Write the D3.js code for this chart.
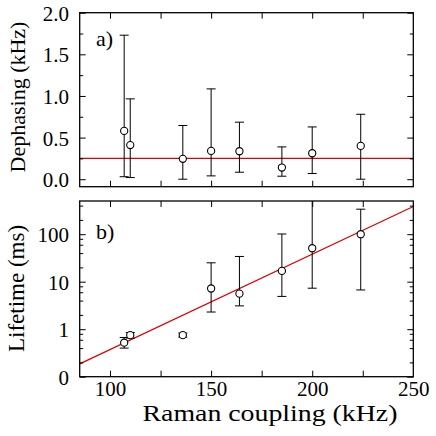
<!DOCTYPE html>
<html>
<head>
<meta charset="utf-8">
<script src="https://cdn.jsdelivr.net/npm/d3@7"></script>
<style>
  html, body { margin: 0; padding: 0; background: #fff; }
  svg { display: block; }
  text { font-family: "Liberation Serif", "Times New Roman", serif; }
</style>
</head>
<body>
<svg id="s" width="436" height="436"></svg>
<script>
// ---------------- data ----------------
const coupling       = [107, 110, 136, 150, 164, 185, 200, 224];
const dephasing      = [0.58, 0.41, 0.245, 0.34, 0.336, 0.14, 0.312, 0.40];
const dephasingLow   = [0.03, 0.02, 0.0, 0.04, 0.084, 0.036, 0.068, 0.0];
const dephasingHigh  = [1.73, 0.965, 0.645, 1.085, 0.685, 0.388, 0.628, 0.78];
const dephasingFit   = 0.25;

const lifetime       = [0.52, 0.75, 0.75, 7.2, 5.6, 16.9, 50.7, 100];
const lifetimeLow    = [0.40, 0.65, 0.68, 2.3, 3.1, 4.9, 7.3, 6.7];
const lifetimeHigh   = [0.67, 0.85, 0.83, 25, 34, 101, 700, 336];
const fitCoupling    = [85, 250];
const fitLifetime    = [0.186, 382];

const xTickValues    = [100, 125, 150, 175, 200, 225];
const xLabelValues   = [100, 150, 200, 250];
const yTopMajor      = [0, 0.5, 1.0, 1.5, 2.0];
const yTopMinor      = [0.25, 0.75, 1.25, 1.75];
const yBotMajor      = [0.1, 1, 10, 100];
const yBotLabels     = ["0", "1", "10", "100"];
const yBotMinor      = [0.2, 0.4, 0.6, 0.8, 2, 4, 6, 8, 20, 40, 60, 80, 200, 400];

// ---------------- layout ----------------
const L = 79.7, R = 413.3;
const topT = 12.7, topB = 186.7;
const botT = 201, botB = 376.7;
const majorLen = 6, minorLen = 3.5;
const tickFont = 21;
const FONT = '"Liberation Serif", "Times New Roman", serif';

const svg = d3.select("#s");

const x = d3.scaleLinear().domain([85, 250]).range([L, R]);
const yTop = d3.scaleLinear().domain([-0.09, 2.0]).range([topB, topT]);
const yBot = d3.scaleLog().domain([0.1, 500]).range([botB, botT]);

const defs = svg.append("defs");
defs.append("clipPath").attr("id", "clipTop").append("rect")
  .attr("x", L).attr("y", topT).attr("width", R - L).attr("height", topB - topT);
defs.append("clipPath").attr("id", "clipBot").append("rect")
  .attr("x", L).attr("y", botT).attr("width", R - L).attr("height", botB - botT);

function styleTicks(g) {
  g.select(".domain").remove();
  g.selectAll(".tick line").attr("stroke", "#000").attr("stroke-width", 1);
  g.selectAll(".tick text").remove();
}

function drawFrameTicks(yScale, T, B, majorY, minorY) {
  svg.append("g").attr("transform", `translate(0,${B})`)
    .call(d3.axisBottom(x).tickValues(xTickValues).tickSize(-majorLen).tickSizeOuter(0)).call(styleTicks);
  svg.append("g").attr("transform", `translate(0,${T})`)
    .call(d3.axisTop(x).tickValues(xTickValues).tickSize(-majorLen).tickSizeOuter(0)).call(styleTicks);
  svg.append("g").attr("transform", `translate(${L},0)`)
    .call(d3.axisLeft(yScale).tickValues(majorY).tickSize(-majorLen).tickSizeOuter(0)).call(styleTicks);
  svg.append("g").attr("transform", `translate(${L},0)`)
    .call(d3.axisLeft(yScale).tickValues(minorY).tickSize(-minorLen).tickSizeOuter(0)).call(styleTicks);
  svg.append("g").attr("transform", `translate(${R},0)`)
    .call(d3.axisRight(yScale).tickValues(majorY).tickSize(-majorLen).tickSizeOuter(0)).call(styleTicks);
  svg.append("g").attr("transform", `translate(${R},0)`)
    .call(d3.axisRight(yScale).tickValues(minorY).tickSize(-minorLen).tickSizeOuter(0)).call(styleTicks);
}

function drawErrorPoints(gClip, yScale, vals, lows, highs) {
  const cap = 4.5;
  const pts = coupling.map((c, i) => ({ c, v: vals[i], lo: lows[i], hi: highs[i] }));
  const eg = gClip.append("g").attr("stroke", "#000").attr("stroke-width", 1).attr("fill", "none");
  pts.forEach(p => {
    const cx = x(p.c);
    eg.append("line").attr("x1", cx).attr("x2", cx).attr("y1", yScale(p.lo)).attr("y2", yScale(p.hi));
    eg.append("line").attr("x1", cx - cap).attr("x2", cx + cap).attr("y1", yScale(p.lo)).attr("y2", yScale(p.lo));
    eg.append("line").attr("x1", cx - cap).attr("x2", cx + cap).attr("y1", yScale(p.hi)).attr("y2", yScale(p.hi));
  });
  gClip.append("g").selectAll("circle").data(pts).join("circle")
    .attr("cx", d => x(d.c)).attr("cy", d => yScale(d.v)).attr("r", 3.6)
    .attr("fill", "#fff").attr("stroke", "#000").attr("stroke-width", 1.1);
}

function styleLabels(g, yOff) {
  g.select(".domain").remove();
  g.attr("font-family", null).attr("font-size", null);
  g.selectAll("text")
    .style("font-family", FONT).style("font-size", tickFont + "px")
    .attr("fill", "#000").attr("dy", null).attr("y", yOff);
}

function label(sel, size) {
  return sel.style("font-family", FONT).style("font-size", size + "px").attr("fill", "#000");
}

// ---------------- top panel ----------------
const gTop = svg.append("g").attr("clip-path", "url(#clipTop)");
gTop.append("line")
  .attr("x1", x(85)).attr("x2", x(250))
  .attr("y1", yTop(dephasingFit)).attr("y2", yTop(dephasingFit))
  .attr("stroke", "#e00000").attr("stroke-width", 1.2);
drawErrorPoints(gTop, yTop, dephasing, dephasingLow, dephasingHigh);
drawFrameTicks(yTop, topT, topB, yTopMajor, yTopMinor);
svg.append("rect").attr("x", L).attr("y", topT).attr("width", R - L).attr("height", topB - topT)
  .attr("fill", "none").attr("stroke", "#000").attr("stroke-width", 1.3);

const yTopAxis = svg.append("g").attr("transform", `translate(69,0)`)
  .call(d3.axisLeft(yTop).tickValues(yTopMajor).tickSize(0).tickPadding(0).tickFormat(d3.format(".1f")));
styleLabels(yTopAxis, 7.5);
yTopAxis.selectAll("text").attr("x", 0).attr("text-anchor", "end");

// ---------------- bottom panel ----------------
const gBot = svg.append("g").attr("clip-path", "url(#clipBot)");
gBot.append("line")
  .attr("x1", x(fitCoupling[0])).attr("x2", x(fitCoupling[1]))
  .attr("y1", yBot(fitLifetime[0])).attr("y2", yBot(fitLifetime[1]))
  .attr("stroke", "#e00000").attr("stroke-width", 1.2);
drawErrorPoints(gBot, yBot, lifetime, lifetimeLow, lifetimeHigh);
drawFrameTicks(yBot, botT, botB, yBotMajor, yBotMinor);
svg.append("rect").attr("x", L).attr("y", botT).attr("width", R - L).attr("height", botB - botT)
  .attr("fill", "none").attr("stroke", "#000").attr("stroke-width", 1.3);

const yBotAxis = svg.append("g").attr("transform", `translate(69,0)`)
  .call(d3.axisLeft(yBot).tickValues(yBotMajor).tickSize(0).tickPadding(0)
    .tickFormat((d, i) => yBotLabels[i]));
styleLabels(yBotAxis, 7.5);
yBotAxis.selectAll("text").attr("x", 0).attr("text-anchor", "end");

const xAxis = svg.append("g").attr("transform", `translate(0,${botB})`)
  .call(d3.axisBottom(x).tickValues(xLabelValues).tickSize(0).tickPadding(0).tickFormat(d3.format("d")));
styleLabels(xAxis, 19.8);
xAxis.selectAll("text").attr("text-anchor", "middle");

// ---------------- labels ----------------
label(svg.append("text"), 23).attr("x", 270).attr("y", 421).attr("text-anchor", "middle")
  .attr("textLength", 255).attr("lengthAdjust", "spacingAndGlyphs")
  .text("Raman coupling (kHz)");
label(svg.append("text"), 22).attr("transform", "translate(25,97) rotate(-90)").attr("text-anchor", "middle")
  .text("Dephasing (kHz)");
label(svg.append("text"), 23).attr("transform", "translate(23.5,288.5) rotate(-90)").attr("text-anchor", "middle")
  .text("Lifetime (ms)");
label(svg.append("text"), 22).attr("x", 96).attr("y", 45.5).text("a)");
label(svg.append("text"), 22).attr("x", 96).attr("y", 238.5).text("b)");
</script>
</body>
</html>
